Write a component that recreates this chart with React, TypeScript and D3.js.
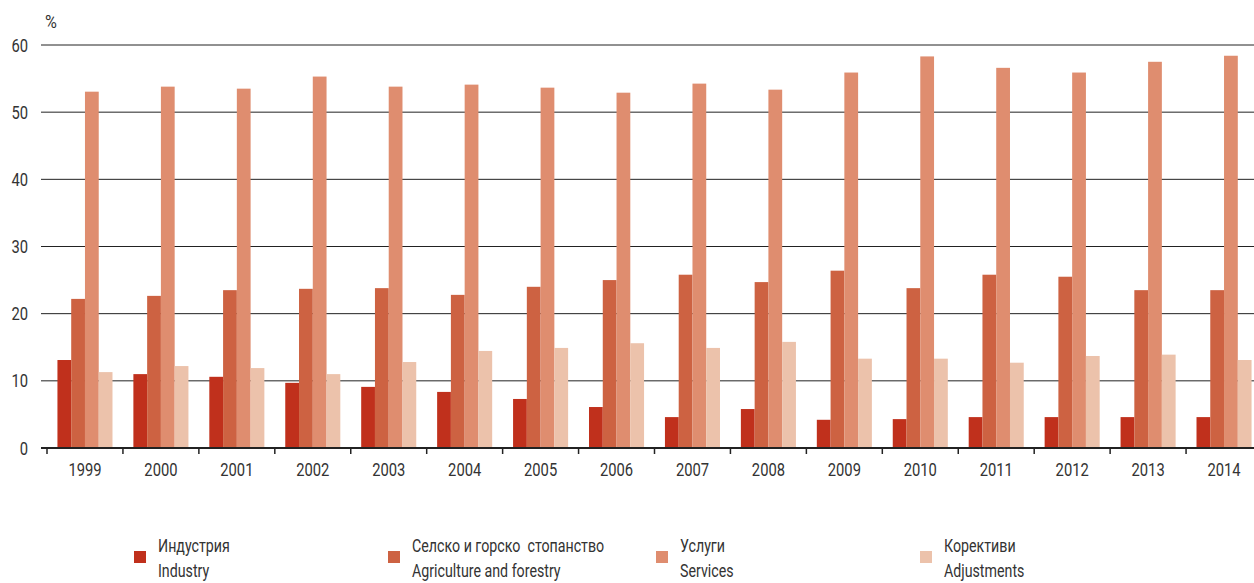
import React from "react";
import * as d3 from "d3";

const years = ["1999","2000","2001","2002","2003","2004","2005","2006","2007","2008","2009","2010","2011","2012","2013","2014"];
const industry = [13.1,11.0,10.6,9.7,9.1,8.35,7.3,6.1,4.6,5.8,4.2,4.3,4.6,4.6,4.6,4.6];
const agriculture = [22.2,22.65,23.5,23.7,23.8,22.8,24.0,25.0,25.8,24.7,26.4,23.8,25.8,25.5,23.5,23.5];
const services = [53.05,53.8,53.5,55.3,53.8,54.1,53.65,52.9,54.25,53.35,55.9,58.3,56.6,55.9,57.5,58.4];
const adjustments = [11.3,12.2,11.9,11.0,12.8,14.45,14.9,15.6,14.9,15.8,13.3,13.3,12.7,13.7,13.9,13.1];
const yTicks = [0,10,20,30,40,50,60];
const seriesNamesBg = ["Индустрия","Селско и горско  стопанство","Услуги","Корективи"];
const seriesNamesEn = ["Industry","Agriculture and forestry","Services","Adjustments"];
const colors = ["#c0301c","#cd6242","#df8d6f","#ecc2ab"];

const FONT = "Roboto, 'Noto Sans', sans-serif";

function CText({ x, y, anchor = "start", size = 18, sx = 0.82, children }: { x: number; y: number; anchor?: string; size?: number; sx?: number; children: React.ReactNode }) {
  return (
    <text
      transform={`translate(${x},${y}) scale(${sx},1)`}
      textAnchor={anchor}
      fontSize={size}
      fill="#333"
      style={{ whiteSpace: "pre" }}
    >
      {children}
    </text>
  );
}

export default function App() {
  const W = 1254, H = 583;
  const series = [industry, agriculture, services, adjustments];
  const x = d3.scaleBand<string>().domain(years).range([47, 1262]).paddingInner(0.275).paddingOuter(0.1375);
  const xTickScale = d3.scaleBand<string>().domain(years).range([47, 1262]).padding(0);
  const x1 = d3.scaleBand<number>().domain([0,1,2,3]).range([0, x.bandwidth()]).padding(0);
  const y = d3.scaleLinear().domain([0, 60]).range([448, 45]);
  const legendX = [134, 388, 656, 920];

  return (
    <svg width={W} height={H} style={{ position: "absolute", left: 0, top: 0 }} fontFamily={FONT}>
      <CText x={45} y={28} size={18} sx={0.9}>%</CText>
      {yTicks.map(t => (
        <g key={t}>
          {t > 0 && <line x1={41} x2={W} y1={y(t)} y2={y(t)} stroke="#222" strokeWidth={1} />}
          <CText x={28} y={y(t) + 6.5} anchor="end">{t}</CText>
        </g>
      ))}
      {years.map((yr, i) => (
        <g key={yr} transform={`translate(${x(yr)},0)`}>
          {series.map((s, k) => (
            <rect key={k} x={x1(k)} y={y(s[i])} width={x1.bandwidth()} height={y(0) - y(s[i])} fill={colors[k]} />
          ))}
        </g>
      ))}
      <line x1={41} x2={W} y1={448} y2={448} stroke="#222" strokeWidth={2} />
      {years.map((yr) => (
        <line key={"t" + yr} x1={xTickScale(yr)} x2={xTickScale(yr)} y1={448} y2={454} stroke="#222" strokeWidth={1.5} />
      ))}
      {years.map((yr) => (
        <CText key={"l" + yr} x={(xTickScale(yr) as number) + xTickScale.bandwidth() / 2} y={476} anchor="middle">{yr}</CText>
      ))}
      {seriesNamesBg.map((n, k) => (
        <g key={n}>
          <rect x={legendX[k]} y={551} width={12} height={12} fill={colors[k]} />
          <CText x={legendX[k] + 24} y={552} sx={0.79}>{n}</CText>
          <CText x={legendX[k] + 24} y={577} sx={0.79}>{seriesNamesEn[k]}</CText>
        </g>
      ))}
    </svg>
  );
}
